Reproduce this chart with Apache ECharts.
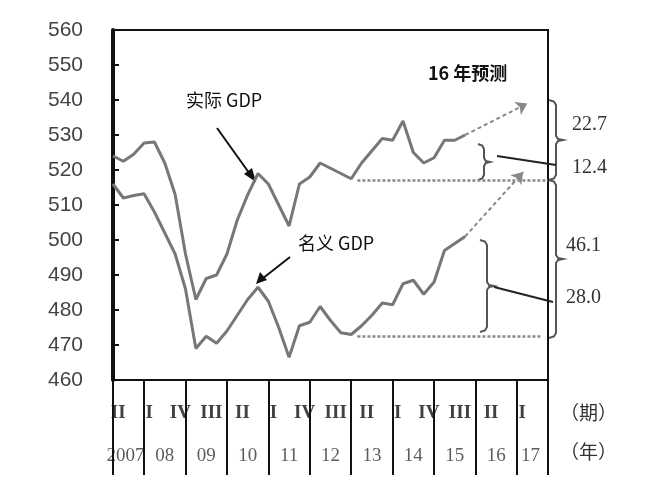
<!DOCTYPE html>
<html><head><meta charset="utf-8">
<script src="https://cdn.jsdelivr.net/npm/echarts@6/dist/echarts.min.js"></script>
<style>html,body{margin:0;padding:0;background:#fff}#c{width:656px;height:500px}</style>
</head><body><div id="c"></div>
<script>
// quarter index k: 0 = 2007Q2
const realGDP = [524,522.5,524.5,527.7,528,522,513,496,483,489,490,496,505.7,512.9,519,516,510,504,516,518,522,520.5,519,517.5,522,525.5,529,528.5,534,525,522,523.5,528.5,528.5,530];
const nominalGDP = [516,512,512.7,513.2,508,502,496,486,469,472.5,470.5,474,478.5,483,486.5,482.5,475,466.5,475.5,476.5,481,477,473.5,473,475.5,478.5,482,481.5,487.5,488.5,484.5,488,497,499,501];
const realForecast = [[34,530],[40,539]];
const nominalForecast = [[34,501],[39.6,519.4]];
const realBase = 517.1, nominalBase = 472.6;
const quarterLabels = [[0,'II'],[3,'I'],[6,'IV'],[9,'III'],[12,'II'],[15,'I'],[18,'IV'],[21,'III'],[24,'II'],[27,'I'],[30,'IV'],[33,'III'],[36,'II'],[39,'I']];
const yearBounds = [0,3,7,11,15,19,23,27,31,35,39,42];
const yearLabels = ['2007','08','09','10','11','12','13','14','15','16','17'];

const chart = echarts.init(document.getElementById('c'));
const toXY = a => a.map((v,i)=>[i,v]);
const lineStyle = {color:'#777',width:3};
const yearPts = yearLabels.map((t,i)=>[i===0?1.2:(i===10?40.3:(yearBounds[i]+yearBounds[i+1])/2),0.2,t]);
const fcLine = d => [{coord:d[0]},{coord:d[1]}];
chart.setOption({
  animation:false,
  grid:[{left:113,top:30,width:435,height:350,show:true,borderColor:'#111',borderWidth:2},
        {left:113,top:380,width:435,height:95}],
  xAxis:[{gridIndex:0,type:'value',min:0,max:42,show:false},
         {gridIndex:1,type:'value',min:0,max:42,show:false}],
  yAxis:[{gridIndex:0,type:'value',min:460,max:560,interval:10,
          axisLine:{show:true,lineStyle:{color:'#111',width:4}},
          axisTick:{show:true,inside:true,length:6,lineStyle:{color:'#111',width:2}},
          splitLine:{show:false},
          axisLabel:{color:'#444',fontSize:21,fontFamily:'Liberation Sans',margin:30}},
         {gridIndex:1,type:'value',min:0,max:1,show:false}],
  series:[
    {type:'line',data:toXY(realGDP),symbol:'none',lineStyle:lineStyle,
     markLine:{silent:true,symbol:['none','none'],label:{show:false},
       data:[[{coord:[23.6,realBase]},{coord:[42,realBase]}],[{coord:[23.6,nominalBase]},{coord:[41.3,nominalBase]}]],
       lineStyle:{color:'#888',width:2.5,type:[3,2]}}},
    {type:'line',data:toXY(nominalGDP),symbol:'none',lineStyle:lineStyle,
     markLine:{silent:true,symbol:['none','arrow'],symbolSize:11,label:{show:false},
       data:[fcLine(realForecast),fcLine(nominalForecast)],
       lineStyle:{color:'#888',width:2,type:[4,3]},itemStyle:{color:'#888'}}},
    {type:'scatter',xAxisIndex:1,yAxisIndex:1,symbolSize:0,
     data:quarterLabels.map(q=>[q[0]+0.5,0.65,q[1]]),
     label:{show:true,formatter:p=>p.data[2],color:'#111',fontSize:19,fontFamily:'Liberation Serif',fontWeight:'bold'},
     markLine:{silent:true,symbol:['none','none'],label:{show:false},
       data:yearBounds.map(v=>({xAxis:v})),lineStyle:{color:'#111',width:2,type:'solid'}}},
    {type:'scatter',xAxisIndex:1,yAxisIndex:1,symbolSize:0,data:yearPts,
     label:{show:true,formatter:p=>p.data[2],color:'#333',fontSize:19,fontFamily:'Liberation Serif'}}
  ]
});
function brace(x,y1,y2,w){
  const m=(y1+y2)/2, h=w/2;
  return [[x,y1],[x+h*0.7,y1+1.5],[x+h,y1+5],[x+h,m-4],[x+h*1.3,m-1],[x+w,m],[x+h*1.3,m+1],[x+h,m+4],[x+h,y2-5],[x+h*0.7,y2-1.5],[x,y2]];
}
const bs={stroke:'#555',lineWidth:2,fill:null};
const br=(x,y1,y2,w)=>({type:'polyline',shape:{points:brace(x,y1,y2,w)},style:bs});
const txt=(x,y,t,o)=>({type:'text',x:x,y:y,style:Object.assign({text:t,fill:'#111',font:'18px "Noto Sans CJK SC"',textVerticalAlign:'middle'},o||{})});
chart.setOption({graphic:[
  br(478,144,180,12), br(480,240,332,14), br(549,100,180,14), br(549,180,338,14),
  {type:'line',shape:{x1:497,y1:156,x2:556,y2:165},style:{stroke:'#222',lineWidth:2}},
  {type:'line',shape:{x1:494,y1:287,x2:553,y2:302},style:{stroke:'#222',lineWidth:2}},
  {type:'line',shape:{x1:217,y1:128,x2:252,y2:177},style:{stroke:'#111',lineWidth:2}},
  {type:'polygon',shape:{points:[[256,182],[244,174],[252,168]]},style:{fill:'#111'}},
  {type:'line',shape:{x1:290,y1:257,x2:262,y2:279},style:{stroke:'#111',lineWidth:2}},
  {type:'polygon',shape:{points:[[256,284],[260,272],[267,280]]},style:{fill:'#111'}},
  txt(186,100,'实际 GDP'),
  txt(298,243,'名义 GDP'),
  txt(428,73,'16 年预测',{font:'bold 18px "Noto Sans CJK SC"'}),
  txt(572,125,'22.7',{font:'20px "Liberation Serif"',fill:'#333'}),
  txt(572,168,'12.4',{font:'20px "Liberation Serif"',fill:'#333'}),
  txt(566,246,'46.1',{font:'20px "Liberation Serif"',fill:'#333'}),
  txt(566,298,'28.0',{font:'20px "Liberation Serif"',fill:'#333'}),
  txt(560,413,'（期）',{font:'19px "Noto Sans CJK SC"',fill:'#333'}),
  txt(560,452,'（年）',{font:'19px "Noto Sans CJK SC"',fill:'#333'})
]});
</script></body></html>
